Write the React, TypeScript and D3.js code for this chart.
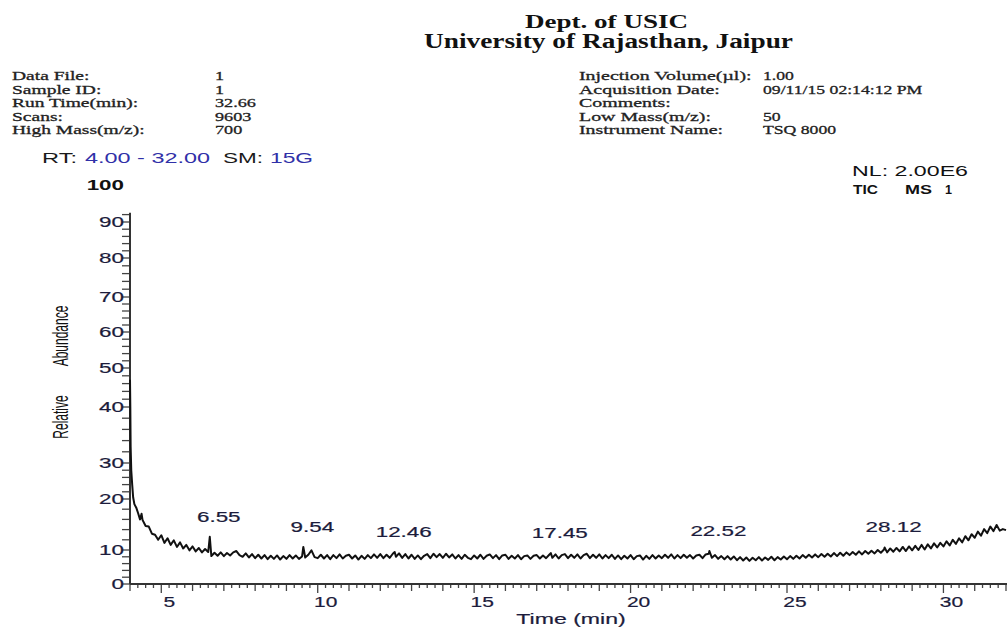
import React from 'react';
import * as d3 from 'd3';

// ---------- text content ----------
const TITLE_LINES = ['Dept. of USIC', 'University of Rajasthan, Jaipur'];
const INFO_LEFT: [string, string][] = [
  ['Data File:', '1'],
  ['Sample ID:', '1'],
  ['Run Time(min):', '32.66'],
  ['Scans:', '9603'],
  ['High Mass(m/z):', '700'],
];
const INFO_RIGHT: [string, string][] = [
  ['Injection Volume(µl):', '1.00'],
  ['Acquisition Date:', '09/11/15 02:14:12 PM'],
  ['Comments:', ''],
  ['Low Mass(m/z):', '50'],
  ['Instrument Name:', 'TSQ 8000'],
];

// ---------- axes ----------
const X_DOMAIN = [4, 32];
const X_TICKS = [5, 10, 15, 20, 25, 30];
const Y_TICKS = [0, 10, 20, 30, 40, 50, 60, 70, 80, 90];
const Y_STOPS = [0, 10, 20, 30, 40, 50, 60, 70, 80, 90, 100];

// ---------- trace data (relative abundance vs time, min) ----------
const EARLY_POINTS: [number, number][] = [
  [4.0, 47], [4.01, 40], [4.02, 33], [4.04, 28], [4.07, 24], [4.1, 20.5],
  [4.14, 19.0], [4.2, 18.3], [4.26, 17.2], [4.32, 16.0], [4.37, 17.1],
];
const SCAN_START = 4.4;
const SCAN_STEP = 0.1;
const SCAN_VALUES = [
  15.9, 14.7, 14.6, 13.2, 13.0, 12.0,
  12.9, 11.4, 12.3, 11.0, 11.9, 10.6, 11.5, 10.3, 11.0, 9.9,
  10.7, 9.6, 10.4, 9.3, 10.2, 9.4, 8.2, 9.2, 8.3, 9.3,
  8.2, 9.1, 8.4, 9.3, 9.7, 8.5, 8.0, 9.0, 7.8, 8.8,
  7.6, 8.6, 7.5, 8.5, 7.3, 8.3, 7.4, 8.4, 7.2, 8.2,
  7.4, 8.5, 7.5, 8.4, 7.4, 8.1, 7.8, 8.6, 9.9, 7.9,
  7.6, 8.6, 7.5, 8.5, 7.3, 8.5, 7.6, 8.7, 7.5, 8.3,
  8.6, 7.5, 8.4, 7.2, 8.3, 7.4, 8.5, 7.6, 8.7, 7.7,
  8.8, 7.6, 8.6, 7.7, 8.9, 8.0, 9.0, 7.7, 8.8, 7.5,
  8.6, 7.4, 8.4, 7.3, 8.3, 8.8, 7.6, 8.9, 7.9, 8.8,
  7.7, 8.9, 7.8, 8.7, 7.5, 8.5, 7.4, 8.6, 7.7, 7.3,
  8.4, 7.5, 8.6, 7.4, 8.3, 8.7, 7.6, 8.5, 7.3, 8.4,
  8.6, 7.4, 8.3, 7.5, 8.5, 7.3, 8.2, 8.4, 7.4, 8.3,
  8.5, 7.5, 8.4, 7.6, 8.6, 7.7, 8.7, 7.5, 8.5, 8.8,
  7.6, 8.6, 7.7, 8.7, 7.5, 8.5, 8.9, 7.6, 8.6, 7.7,
  8.7, 7.5, 8.5, 7.6, 8.6, 7.4, 8.4, 7.3, 8.3, 7.5,
  8.5, 7.3, 8.2, 8.4, 7.2, 8.3, 7.4, 8.5, 7.5, 8.4,
  7.6, 8.6, 7.7, 8.7, 7.5, 8.5, 7.6, 8.6, 7.7, 8.5,
  7.5, 8.4, 8.6, 7.6, 8.7, 8.9, 7.7, 8.5, 7.4, 8.2,
  7.3, 8.2, 7.2, 8.1, 7.0, 7.9, 6.9, 7.8, 6.8, 7.7,
  7.0, 7.9, 6.9, 7.8, 7.1, 8.0, 7.0, 7.9, 7.2, 8.1,
  7.3, 8.2, 7.4, 8.3, 7.5, 8.5, 7.7, 8.6, 7.8, 8.7,
  7.9, 8.8, 8.0, 8.9, 8.1, 9.1, 8.2, 9.2, 8.3, 9.3,
  8.5, 9.4, 8.6, 9.6, 8.7, 9.7, 8.9, 9.8, 9.0, 10.0,
  9.2, 10.1, 9.3, 10.3, 9.5, 10.4, 9.6, 10.6, 9.7, 10.7,
  9.9, 10.8, 10.0, 11.0, 10.1, 11.1, 10.3, 11.3, 10.5, 11.4,
  10.7, 11.7, 10.9, 12.0, 11.2, 12.3, 11.5, 12.7, 11.9, 13.1,
  12.4, 13.6, 12.8, 14.1, 13.3, 14.6, 13.7, 14.9, 13.8, 14.1,
  13.9,
];
const PEAK_TIMES = [6.55, 9.54, 12.46, 17.45, 22.52, 28.12];
const PEAK_HEIGHTS = [12.6, 10.6, 9.4, 9.1, 9.7, 10.5];

const SANS = '"Liberation Sans", Arial, Helvetica, sans-serif';
const SERIF = '"Liberation Serif", "Times New Roman", serif';
const AXIS_TEXT = '#1c1c3c';

function ST(props: {
  x: number; y: number; children: React.ReactNode; sx?: number; size?: number;
  anchor?: string; weight?: string; fill?: string; family?: string; stroke?: number;
}) {
  const { x, y, children, sx = 1.6, size = 14, anchor = 'start', weight = 'normal', fill = AXIS_TEXT, family = SANS, stroke = 0 } = props;
  return (
    <text
      transform={`translate(${x},${y}) scale(${sx},1)`}
      fontSize={size}
      fontFamily={family}
      fontWeight={weight}
      textAnchor={anchor as any}
      fill={fill}
      stroke={stroke ? fill : 'none'}
      strokeWidth={stroke}
      style={{ whiteSpace: 'pre' }}
    >
      {children}
    </text>
  );
}

export default function App() {
  const W = 1007, H = 628;
  const x = d3.scaleLinear().domain(X_DOMAIN).range([130, 1006]);
  const y = d3.scaleLinear().domain(Y_STOPS).range([584, 550, 499, 463, 407, 368, 332, 297, 258, 222, 185]);

  const scans: [number, number][] = SCAN_VALUES.map((v, i) => [SCAN_START + i * SCAN_STEP, v]);
  const peaks: [number, number][] = PEAK_TIMES.map((t, i) => [t, PEAK_HEIGHTS[i]]);
  const trace = [...EARLY_POINTS, ...scans, ...peaks].sort((a, b) => a[0] - b[0]);

  const line = d3.line<[number, number]>()
    .x(d => x(d[0]))
    .y(d => y(d[1]));

  const minorX = d3.range(X_DOMAIN[0], X_DOMAIN[1] + 0.001, 0.25);
  const minorY = d3.range(0, 92.1, 2);
  const yTop = y(92.5);
  const x0 = x(X_DOMAIN[0]);
  const y0 = y(0);

  return (
    <svg width={W} height={H} style={{ position: 'absolute', left: 0, top: 0, background: '#fff' }}>
      <rect x={0} y={0} width={W} height={H} fill="#fff" />

      {/* header */}
      <text x={525} y={28} textLength={163} lengthAdjust="spacingAndGlyphs" fontSize={19} fontWeight="bold" fontFamily={SERIF} fill="#111">{TITLE_LINES[0]}</text>
      <text x={424} y={48} textLength={369} lengthAdjust="spacingAndGlyphs" fontSize={20} fontWeight="bold" fontFamily={SERIF} fill="#111">{TITLE_LINES[1]}</text>

      {INFO_LEFT.map(([k, v], i) => (
        <g key={'l' + i}>
          <ST x={12} y={80 + i * 13.5} size={13} sx={1.5} family={SERIF} fill="#222" stroke={0.3}>{k}</ST>
          <ST x={215} y={80 + i * 13.5} size={13} sx={1.4} family={SERIF} fill="#222" stroke={0.3}>{v}</ST>
        </g>
      ))}
      {INFO_RIGHT.map(([k, v], i) => (
        <g key={'r' + i}>
          <ST x={579} y={80 + i * 13.5} size={13} sx={1.53} family={SERIF} fill="#222" stroke={0.3}>{k}</ST>
          <ST x={763} y={80 + i * 13.5} size={13} sx={1.36} family={SERIF} fill="#222" stroke={0.3}>{v}</ST>
        </g>
      ))}

      {/* RT / SM line */}
      <text x={42} y={163} textLength={35} lengthAdjust="spacingAndGlyphs" fontSize={15} fontFamily={SANS} fill="#1a1a1a">RT:</text>
      <text x={85} y={163} textLength={125} lengthAdjust="spacingAndGlyphs" fontSize={15} fontFamily={SANS} fill="#3030a8">4.00 - 32.00</text>
      <text x={223} y={163} textLength={40} lengthAdjust="spacingAndGlyphs" fontSize={15} fontFamily={SANS} fill="#1a1a1a">SM:</text>
      <text x={270} y={163} textLength={43} lengthAdjust="spacingAndGlyphs" fontSize={15} fontFamily={SANS} fill="#3030a8">15G</text>

      {/* NL / TIC */}
      <text x={852} y={176} textLength={116} lengthAdjust="spacingAndGlyphs" fontSize={15} fontFamily={SANS} fill="#111">NL: 2.00E6</text>
      <text x={853} y={194} textLength={25} lengthAdjust="spacingAndGlyphs" fontSize={12} fontWeight="bold" fontFamily={SANS} fill="#111">TIC</text>
      <text x={905} y={194} textLength={27} lengthAdjust="spacingAndGlyphs" fontSize={12} fontWeight="bold" fontFamily={SANS} fill="#111">MS</text>
      <text x={945} y={194} textLength={7} lengthAdjust="spacingAndGlyphs" fontSize={12} fontWeight="bold" fontFamily={SANS} fill="#111">1</text>

      {/* y axis title */}
      <text transform={`translate(68,417) scale(1.9,1) rotate(-90)`} fontSize={12} fontFamily={SANS} textAnchor="middle" fill="#111">Relative</text>
      <text transform={`translate(68,336) scale(1.9,1) rotate(-90)`} fontSize={12} fontFamily={SANS} textAnchor="middle" fill="#111">Abundance</text>

      {/* y axis */}
      {minorY.map(v => (
        <line key={'yt' + v} x1={x0 - 8} x2={x0} y1={y(v)} y2={y(v)} stroke="#444" strokeWidth={1.3} />
      ))}
      <line x1={x0} x2={x0} y1={y0} y2={yTop} stroke="#333" strokeWidth={2} />
      {Y_TICKS.map(v => (
        <ST key={'yl' + v} x={124} y={y(v) + 5} anchor="end" sx={1.6} stroke={0.2}>{String(v)}</ST>
      ))}
      <ST x={124} y={y(100) + 5} anchor="end" sx={1.6} weight="bold" fill="#111">100</ST>

      {/* x axis */}
      {minorX.map(t => {
        const r = Math.round(t * 4) / 4;
        const len = Math.abs(r % 5) < 1e-6 ? 9 : Math.abs(r % 1) < 1e-6 ? 7 : 4;
        return <line key={'xt' + t} x1={x(t)} x2={x(t)} y1={y0} y2={y0 + len} stroke="#444" strokeWidth={1.3} />;
      })}
      <line x1={x0} x2={W} y1={y0} y2={y0} stroke="#333" strokeWidth={2} />
      {X_TICKS.map(t => (
        <ST key={'xl' + t} x={x(t) + 8} y={607} anchor="middle" sx={1.5} stroke={0.2}>{String(t)}</ST>
      ))}
      <ST x={571} y={624} anchor="middle" sx={1.65} stroke={0.2}>Time (min)</ST>

      {/* trace */}
      <path d={line(trace) || ''} fill="none" stroke="#111" strokeWidth={2} strokeLinejoin="round" />

      {/* peak labels */}
      {PEAK_TIMES.map((t, i) => (
        <ST key={'pk' + i} x={x(t) + 9} y={y(PEAK_HEIGHTS[i]) - 15} anchor="middle" sx={1.6} stroke={0.2}>{t.toFixed(2)}</ST>
      ))}
    </svg>
  );
}
